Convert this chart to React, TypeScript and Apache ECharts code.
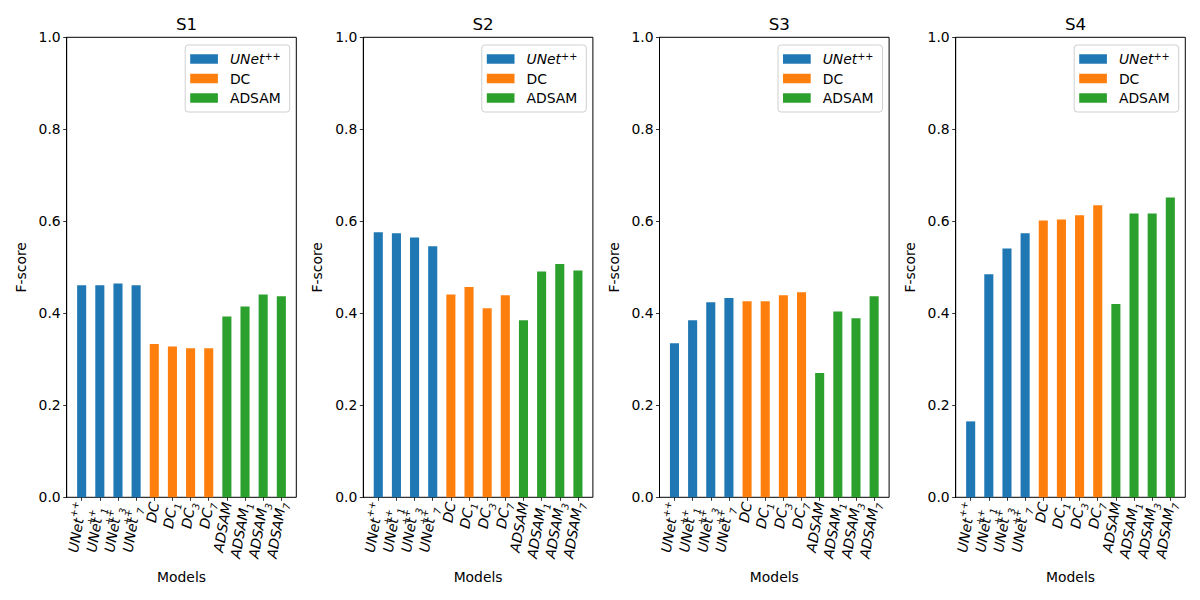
import React, { useEffect, useRef } from "react";
import * as echarts from "echarts";

const categories = [
  "UNet++", "UNet++_1", "UNet++_3", "UNet++_7",
  "DC", "DC_1", "DC_3", "DC_7",
  "ADSAM", "ADSAM_1", "ADSAM_3", "ADSAM_7",
];
const groupNames = ["UNet++", "DC", "ADSAM"];
const groupOf = [0, 0, 0, 0, 1, 1, 1, 1, 2, 2, 2, 2];
const subplotTitles = ["S1", "S2", "S3", "S4"];
const s1Values = [0.461, 0.461, 0.465, 0.461, 0.333, 0.328, 0.324, 0.324, 0.393, 0.415, 0.441, 0.437];
const s2Values = [0.576, 0.574, 0.565, 0.546, 0.441, 0.457, 0.411, 0.439, 0.385, 0.491, 0.507, 0.493];
const s3Values = [0.335, 0.385, 0.424, 0.433, 0.426, 0.426, 0.439, 0.446, 0.270, 0.404, 0.389, 0.437];
const s4Values = [0.165, 0.485, 0.541, 0.574, 0.602, 0.604, 0.613, 0.635, 0.420, 0.617, 0.617, 0.652];
const yTicks = [0, 0.2, 0.4, 0.6, 0.8, 1.0];
const colors = ["#1f77b4", "#ff7f0e", "#2ca02c"];

const FONT = "DejaVu Sans";
const TICK_FS = 13.9;

function labelRich(name: string): string {
  const parts = name.split("_");
  let base = parts[0];
  const sub = parts[1];
  let sup = "";
  if (base.endsWith("++")) {
    sup = "++";
    base = base.slice(0, -2);
  }
  let s = `{b|${base}}`;
  if (sup && sub) {
    s += `{supz|${sup}}{sub2|${sub}}`;
  } else {
    if (sup) s += `{sup|${sup}}`;
    if (sub) s += `{sub|${sub}}`;
  }
  return s;
}

const rich = {
  b: { fontFamily: FONT, fontStyle: "italic", fontSize: TICK_FS, lineHeight: 22, color: "#000" },
  sup: { fontFamily: FONT, fontSize: 9.7, lineHeight: 11, verticalAlign: "top", color: "#000" },
  supz: { fontFamily: FONT, fontSize: 9.7, lineHeight: 11, verticalAlign: "top", color: "#000", width: 0.01, align: "left" },
  sub: { fontFamily: FONT, fontStyle: "italic", fontSize: 9.7, lineHeight: 11, verticalAlign: "bottom", color: "#000" },
  sub2: { fontFamily: FONT, fontStyle: "italic", fontSize: 9.7, lineHeight: 11, verticalAlign: "bottom", color: "#000", width: 16, align: "left" },
};

export default function App() {
  const ref = useRef<HTMLDivElement>(null);
  useEffect(() => {
    if (!ref.current) return;
    const chart = echarts.init(ref.current, undefined, { renderer: "svg" });
    const allValues = [s1Values, s2Values, s3Values, s4Values];
    const lefts = [66.7, 363.3, 659.5, 955.7];
    const W = 229.6;
    const TOP = 37.3;
    const H = 460;
    const margin = 0.825;
    const span = 11 + 2 * margin;
    const pxPerUnit = W / span;
    const innerOffset = (margin - 0.5) * pxPerUnit;
    const innerW = 12 * pxPerUnit;

    const grid: any[] = [];
    const xAxis: any[] = [];
    const yAxis: any[] = [];
    const series: any[] = [];
    const title: any[] = [];
    const legend: any[] = [];

    allValues.forEach((vals, i) => {
      const L = lefts[i];
      grid.push({ left: L, top: TOP, width: W, height: H, show: true, borderColor: "#000", borderWidth: 1, backgroundColor: "transparent", containLabel: false });
      grid.push({ left: L + innerOffset, top: TOP, width: innerW, height: H, containLabel: false });
      const og = 2 * i;
      const ig = 2 * i + 1;
      xAxis.push({ type: "value", gridIndex: og, min: 0, max: 1, show: false });
      xAxis.push({
        type: "category",
        gridIndex: ig,
        data: categories,
        boundaryGap: true,
        axisLine: { show: false },
        axisTick: { show: true, alignWithLabel: true, length: 3.5, lineStyle: { color: "#000", width: 0.8 } },
        axisLabel: {
          interval: 0,
          rotate: 80,
          margin: 5,
          formatter: (v: string) => labelRich(v),
          rich,
        },
        name: "Models",
        nameLocation: "middle",
        nameGap: 73,
        nameTextStyle: { fontFamily: FONT, fontSize: TICK_FS, color: "#000" },
      });
      yAxis.push({
        type: "value",
        gridIndex: og,
        min: 0,
        max: 1,
        interval: 0.2,
        axisLine: { show: true, lineStyle: { color: "#000", width: 1 } },
        axisTick: { show: true, length: 3.5, lineStyle: { color: "#000", width: 0.8 } },
        splitLine: { show: false },
        axisLabel: {
          margin: 6,
          fontFamily: FONT,
          fontSize: TICK_FS,
          color: "#000",
          formatter: (v: number) => {
            const t = yTicks.find((x) => Math.abs(x - v) < 1e-6);
            return (t !== undefined ? t : v).toFixed(1);
          },
        },
        name: "F-score",
        nameLocation: "middle",
        nameGap: 39,
        nameTextStyle: { fontFamily: FONT, fontSize: TICK_FS, color: "#000" },
      });
      yAxis.push({ type: "value", gridIndex: ig, min: 0, max: 1, show: false });

      groupNames.forEach((gname, g) => {
        series.push({
          type: "bar",
          name: gname,
          xAxisIndex: 2 * i + 1,
          yAxisIndex: 2 * i + 1,
          stack: "s" + i,
          barWidth: "50%",
          itemStyle: { color: colors[g] },
          data: vals.map((v, k) => (groupOf[k] === g ? v : "-")),
        });
      });

      title.push({
        text: subplotTitles[i],
        left: L + W / 2,
        textAlign: "center",
        top: 10,
        textStyle: { fontFamily: FONT, fontSize: 16.7, fontWeight: "normal", color: "#000" },
      });

      legend.push({
        data: groupNames,
        orient: "vertical",
        left: L + 118.5,
        top: 45,
        padding: [6, 9, 7, 5],
        itemGap: 5.5,
        itemWidth: 27.7,
        itemHeight: 9.5,
        icon: "rect",
        backgroundColor: "#fff",
        borderColor: "#d0d0d0",
        borderWidth: 1,
        borderRadius: 3,
        selectedMode: false,
        formatter: (name: string) => (name === "UNet++" ? "{b|UNet}{sup|++}" : `{n|${name}}`),
        textStyle: {
          padding: [0, 0, 0, 7],
          rich: {
            b: { fontFamily: FONT, fontStyle: "italic", fontSize: TICK_FS, lineHeight: 16, color: "#000" },
            sup: { fontFamily: FONT, fontSize: 9.7, lineHeight: 10, verticalAlign: "top", color: "#000" },
            n: { fontFamily: FONT, fontSize: TICK_FS, lineHeight: 16, color: "#000" },
          },
        },
      });
    });

    chart.setOption({
      animation: false,
      backgroundColor: "#fff",
      title,
      legend,
      grid,
      xAxis,
      yAxis,
      series,
    });
    return () => chart.dispose();
  }, []);
  return (
    <div
      ref={ref}
      style={{ position: "fixed", left: 0, top: 0, width: 1200, height: 600, background: "#fff" }}
    />
  );
}
